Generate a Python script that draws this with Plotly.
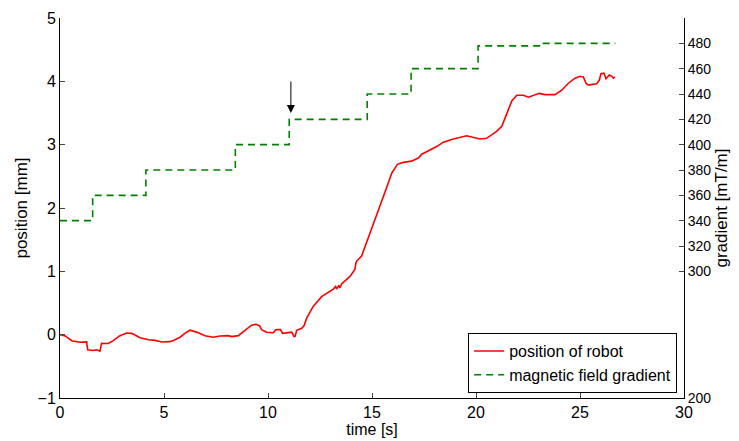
import plotly.graph_objects as go

# position of robot (time [s], position [mm])
robot_t = [0, 0.25, 0.56, 0.96, 1.28, 1.31, 1.33, 1.6, 1.76, 1.92, 1.97, 2.0, 2.32, 2.56, 2.88,
           3.2, 3.45, 3.85, 4.25, 4.57, 4.89, 5.29, 5.53, 5.77, 6.0, 6.25, 6.57, 6.97, 7.37,
           7.69, 8.09, 8.25, 8.57, 8.89, 9.21, 9.42, 9.6, 9.69, 9.93, 10.26, 10.35, 10.42,
           10.6, 10.7, 10.98, 11.14, 11.25, 11.3, 11.38, 11.62, 11.73, 11.86, 12.18, 12.58,
           13.14, 13.25, 13.3, 13.4, 13.46, 13.54, 13.94, 14.18, 14.22, 14.26, 14.5, 14.66,
           14.78, 15.06, 15.38, 15.7, 15.95, 16.22, 16.5, 16.9, 17.23, 17.39, 17.71, 18.11,
           18.43, 18.91, 19.55, 19.87, 20.19, 20.51, 20.67, 20.99, 21.24, 21.48, 21.72, 21.96,
           22.28, 22.52, 22.76, 23.04, 23.32, 23.8, 24.12, 24.44, 24.76, 25.0, 25.16, 25.29,
           25.4, 25.8, 25.93, 26.01, 26.15, 26.25, 26.41, 26.53, 26.6, 26.68]
robot_pos = [0.0, -0.02, -0.095, -0.12, -0.115, -0.2, -0.237, -0.25, -0.24, -0.26, -0.2, -0.137,
             -0.14, -0.095, -0.016, 0.026, 0.02, -0.05, -0.08, -0.09, -0.115, -0.11, -0.08,
             -0.04, 0.02, 0.07, 0.04, -0.016, -0.04, -0.02, -0.015, -0.03, -0.015, 0.07, 0.15,
             0.165, 0.14, 0.08, 0.037, 0.03, 0.07, 0.08, 0.08, 0.02, 0.04, 0.04, -0.03, -0.03,
             0.07, 0.1, 0.14, 0.26, 0.45, 0.6, 0.72, 0.76, 0.72, 0.78, 0.74, 0.8, 0.92, 1.03,
             1.12, 1.16, 1.24, 1.39, 1.5, 1.74, 2.03, 2.32, 2.55, 2.69, 2.72, 2.74, 2.79, 2.85,
             2.9, 2.97, 3.04, 3.09, 3.14, 3.12, 3.09, 3.1, 3.14, 3.21, 3.29, 3.5, 3.69, 3.78,
             3.78, 3.75, 3.78, 3.81, 3.79, 3.79, 3.86, 3.97, 4.05, 4.08, 4.07, 3.97, 3.94,
             3.96, 4.02, 4.12, 4.13, 4.04, 4.1, 4.08, 4.05, 4.07]

# magnetic field gradient steps (time [s], gradient [mT/m])
grad_t = [0, 1.57, 4.13, 8.43, 11.02, 14.77, 16.88, 20.1, 23.1, 26.7]
grad_val = [340, 360, 380, 400, 420, 440, 460, 478, 480, 480]

x_ticks = [0, 5, 10, 15, 20, 25, 30]
left_ticks = [-1, 0, 1, 2, 3, 4, 5]
right_ticks = [200, 300, 320, 340, 360, 380, 400, 420, 440, 460, 480]

FONT = "Liberation Sans, Arial, sans-serif"

fig = go.Figure()
fig.add_trace(go.Scatter(x=robot_t, y=robot_pos, mode="lines", name="position of robot",
                         line=dict(color="#ff0000", width=1.6)))
fig.add_trace(go.Scatter(x=grad_t, y=grad_val, mode="lines", name="magnetic field gradient",
                         yaxis="y2", line=dict(color="#008000", width=1.6, dash="7px,5px",
                                               shape="hv")))

fig.add_annotation(x=11.1, y=3.5, ax=11.1, ay=4.02, xref="x", yref="y", axref="x", ayref="y",
                   text="", showarrow=True, arrowhead=2, arrowsize=1.6, arrowwidth=1,
                   arrowcolor="black")

# the page body adds an 8px offset, so the figure is sized to fit the window
fig.update_layout(
    width=731, height=433,
    margin=dict(l=52, r=55, t=10, b=43),
    paper_bgcolor="white", plot_bgcolor="white",
    font=dict(family=FONT, color="black", size=16),
    showlegend=True,
    legend=dict(x=0.989, y=0.013, xanchor="right", yanchor="bottom",
                bordercolor="black", borderwidth=1, bgcolor="white",
                font=dict(size=16, family=FONT), tracegroupgap=0),
    xaxis=dict(range=[0, 30], tickvals=x_ticks, ticks="inside", ticklen=5,
               showline=True, linecolor="black", linewidth=1, showgrid=False,
               zeroline=False, tickfont=dict(size=16), automargin=False,
               title=dict(text="time [s]", font=dict(size=16), standoff=3)),
    yaxis=dict(range=[-1, 5], tickvals=left_ticks, ticks="inside", ticklen=5,
               showline=True, linecolor="black", linewidth=1, showgrid=False,
               zeroline=False, tickfont=dict(size=16), automargin=False,
               title=dict(text="position [mm]", font=dict(size=17), standoff=5)),
    yaxis2=dict(range=[200, 500], tickvals=right_ticks, overlaying="y", side="right",
                ticks="inside", ticklen=5, showline=True, linecolor="black", linewidth=1,
                showgrid=False, zeroline=False, tickfont=dict(size=14), automargin=False,
                title=dict(text="gradient [mT/m]", font=dict(size=17), standoff=4)),
)

fig.write_html("out.html")
